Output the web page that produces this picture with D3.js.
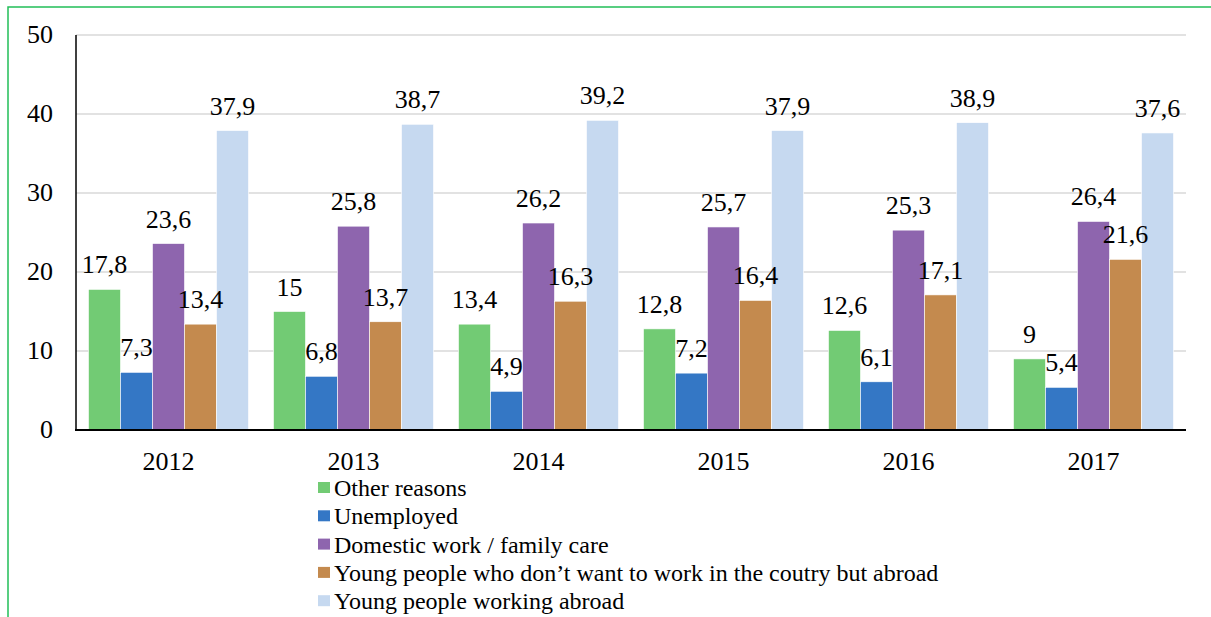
<!DOCTYPE html>
<html>
<head>
<meta charset="utf-8">
<style>
  body { margin: 0; background: #fff; }
</style>
</head>
<body>
<svg width="1211" height="617"></svg>
<script src="https://d3js.org/d3.v7.min.js"></script>
<script>

var years = ["2012", "2013", "2014", "2015", "2016", "2017"];
var seriesNames = [
  "Other reasons",
  "Unemployed",
  "Domestic work / family care",
  "Young people who don\u2019t want to work in the coutry but abroad",
  "Young people working abroad"
];
var otherReasons = [17.8, 15, 13.4, 12.8, 12.6, 9];
var unemployed = [7.3, 6.8, 4.9, 7.2, 6.1, 5.4];
var domesticWork = [23.6, 25.8, 26.2, 25.7, 25.3, 26.4];
var wantAbroad = [13.4, 13.7, 16.3, 16.4, 17.1, 21.6];
var workingAbroad = [37.9, 38.7, 39.2, 37.9, 38.9, 37.6];
var yTicks = [0, 10, 20, 30, 40, 50];

var colors = ["#72cb74", "#3477c5", "#8e65ae", "#c48a4e", "#c6d9f0"];
var allSeries = [otherReasons, unemployed, domesticWork, wantAbroad, workingAbroad];

var font = "Liberation Serif";
var svg = d3.select("svg");
var plotLeft = 76, plotRight = 1186, plotTop = 35, plotBottom = 430;

// green frame (left + top)
svg.append("path")
    .attr("d", "M8,617 V7 H1211")
    .attr("fill", "none")
    .attr("stroke", "#22bf58")
    .attr("stroke-width", 1.5);

var x0 = d3.scaleBand().domain(years).range([plotLeft, plotRight]).paddingInner(0.135).paddingOuter(0.0675);
var x1 = d3.scaleBand().domain(d3.range(seriesNames.length)).range([0, x0.bandwidth()]);
var y = d3.scaleLinear().domain([0, 50]).range([plotBottom, plotTop]);

// gridlines
svg.append("g").selectAll("line")
  .data(yTicks.filter(function(d) { return d > 0; }))
  .join("line")
    .attr("x1", plotLeft).attr("x2", plotRight)
    .attr("y1", function(d) { return y(d); })
    .attr("y2", function(d) { return y(d); })
    .attr("stroke", "#d9d9d9")
    .attr("stroke-width", 1.5);

// y tick labels
svg.append("g").selectAll("text")
  .data(yTicks)
  .join("text")
    .attr("x", 53)
    .attr("y", function(d) { return y(d) + 8; })
    .attr("text-anchor", "end")
    .style("font-family", font)
    .style("font-size", "26px")
    .text(function(d) { return d; });

// bars
var groups = svg.append("g").selectAll("g")
  .data(years)
  .join("g")
    .attr("transform", function(d) { return "translate(" + x0(d) + ",0)"; });

function cells(d, i) {
  return allSeries.map(function(s, k) { return {k: k, v: s[i]}; });
}

groups.selectAll("rect")
  .data(cells)
  .join("rect")
    .attr("x", function(d) { return x1(d.k); })
    .attr("width", x1.bandwidth())
    .attr("y", function(d) { return y(d.v); })
    .attr("height", function(d) { return y(0) - y(d.v); })
    .attr("fill", function(d) { return colors[d.k]; })
    .attr("stroke", "#fff")
    .attr("stroke-width", 0.6);

// value labels
groups.selectAll("text")
  .data(cells)
  .join("text")
    .attr("x", function(d) { return x1(d.k) + x1.bandwidth() / 2; })
    .attr("y", function(d) { return y(d.v) - 16; })
    .attr("text-anchor", "middle")
    .style("font-family", font)
    .style("font-size", "26px")
    .text(function(d) { return String(d.v).replace(".", ","); });

// axis lines
svg.append("line")
    .attr("x1", plotLeft).attr("x2", plotLeft)
    .attr("y1", plotTop).attr("y2", plotBottom)
    .attr("stroke", "#000").attr("stroke-width", 1.5);
svg.append("line")
    .attr("x1", plotLeft - 1).attr("x2", plotRight)
    .attr("y1", plotBottom).attr("y2", plotBottom)
    .attr("stroke", "#000").attr("stroke-width", 2);

// x labels
svg.append("g").selectAll("text")
  .data(years)
  .join("text")
    .attr("x", function(d) { return x0(d) + x0.bandwidth() / 2; })
    .attr("y", 470)
    .attr("text-anchor", "middle")
    .style("font-family", font)
    .style("font-size", "26px")
    .text(function(d) { return d; });

// legend
var legend = svg.append("g").selectAll("g")
  .data(seriesNames)
  .join("g")
    .attr("transform", function(d, i) { return "translate(318," + (488 + i * 28.3) + ")"; });

legend.append("rect")
    .attr("x", 0).attr("y", -6)
    .attr("width", 12).attr("height", 11)
    .attr("fill", function(d, i) { return colors[i]; });

legend.append("text")
    .attr("x", 16)
    .attr("y", 8)
    .style("font-family", font)
    .style("font-size", "24px")
    .text(function(d) { return d; });

</script>
</body>
</html>
